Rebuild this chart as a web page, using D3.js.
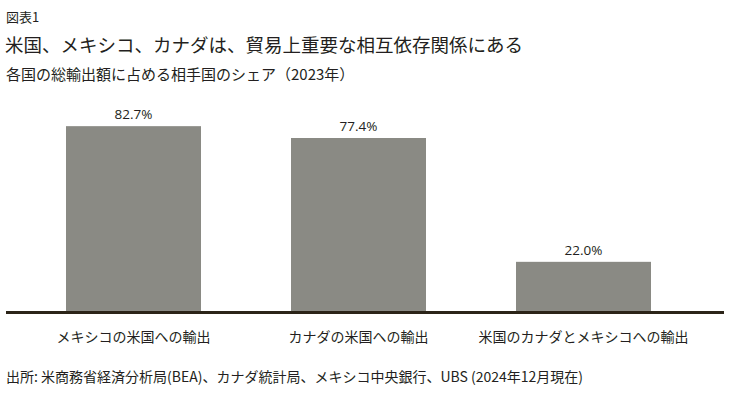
<!DOCTYPE html>
<html>
<head>
<meta charset="utf-8">
<script src="https://cdn.jsdelivr.net/npm/d3@7"></script>
<style>
  body { margin: 0; background: #fff; }
  svg { display: block; font-family: "Noto Sans CJK JP", "Noto Sans", sans-serif; }
</style>
</head>
<body>
<div id="chart"></div>
<script>
// data
const categories = ["メキシコの米国への輸出", "カナダの米国への輸出", "米国のカナダとメキシコへの輸出"];
const shares = [82.7, 77.4, 22.0];

const figLabel = "図表1";
const title = "米国、メキシコ、カナダは、貿易上重要な相互依存関係にある";
const subtitle = "各国の総輸出額に占める相手国のシェア（2023年）";
const source = "出所: 米商務省経済分析局(BEA)、カナダ統計局、メキシコ中央銀行、UBS (2024年12月現在)";

const width = 730, height = 397;
const textColor = "#231f20";

const svg = d3.select("#chart").append("svg")
    .attr("width", width)
    .attr("height", height);

// header texts
svg.append("text").attr("x", 6).attr("y", 22)
    .attr("font-size", 13).attr("fill", textColor).text(figLabel);
svg.append("text").attr("x", 5).attr("y", 52)
    .attr("font-size", 18.5).attr("fill", textColor).text(title);
svg.append("text").attr("x", 6).attr("y", 80)
    .attr("font-size", 15).attr("fill", textColor).text(subtitle);

// scales
const x = d3.scaleBand()
    .domain(categories)
    .range([21, 696])
    .paddingInner(0.4)
    .paddingOuter(0.2);

const y = d3.scaleLinear()
    .domain([0, 100])
    .range([311, 87.5]);

const rows = categories.map((c, i) => ({cat: c, v: shares[i]}));

// bars
svg.selectAll("rect.bar")
  .data(rows)
  .enter()
  .append("rect")
    .attr("class", "bar")
    .attr("x", d => x(d.cat))
    .attr("y", d => y(d.v))
    .attr("width", x.bandwidth())
    .attr("height", d => y(0) - y(d.v))
    .style("fill", "#8a8a84");

// value labels
svg.selectAll("text.val")
  .data(rows)
  .enter()
  .append("text")
    .attr("class", "val")
    .attr("x", d => x(d.cat) + x.bandwidth() / 2)
    .attr("y", d => y(d.v) - 7)
    .attr("text-anchor", "middle")
    .attr("font-family", "'Open Sans', sans-serif")
    .attr("font-size", 13.5)
    .attr("fill", textColor)
    .text(d => d.v.toFixed(1) + "%");

// baseline axis
const xAxis = svg.append("g")
    .attr("transform", "translate(0," + (y(0) + 1.5) + ")")
    .call(d3.axisBottom(x).tickSize(0).tickPadding(20));
xAxis.select(".domain").remove();
xAxis.append("line")
    .attr("x1", 6).attr("x2", 724)
    .attr("stroke", "#2b2418")
    .attr("stroke-width", 3);
xAxis.selectAll(".tick text")
    .attr("font-family", "'Noto Sans CJK JP', sans-serif")
    .attr("font-size", 14)
    .attr("fill", textColor);

// source
svg.append("text").attr("x", 6).attr("y", 382)
    .attr("font-size", 14).attr("fill", textColor).text(source);
</script>
</body>
</html>
